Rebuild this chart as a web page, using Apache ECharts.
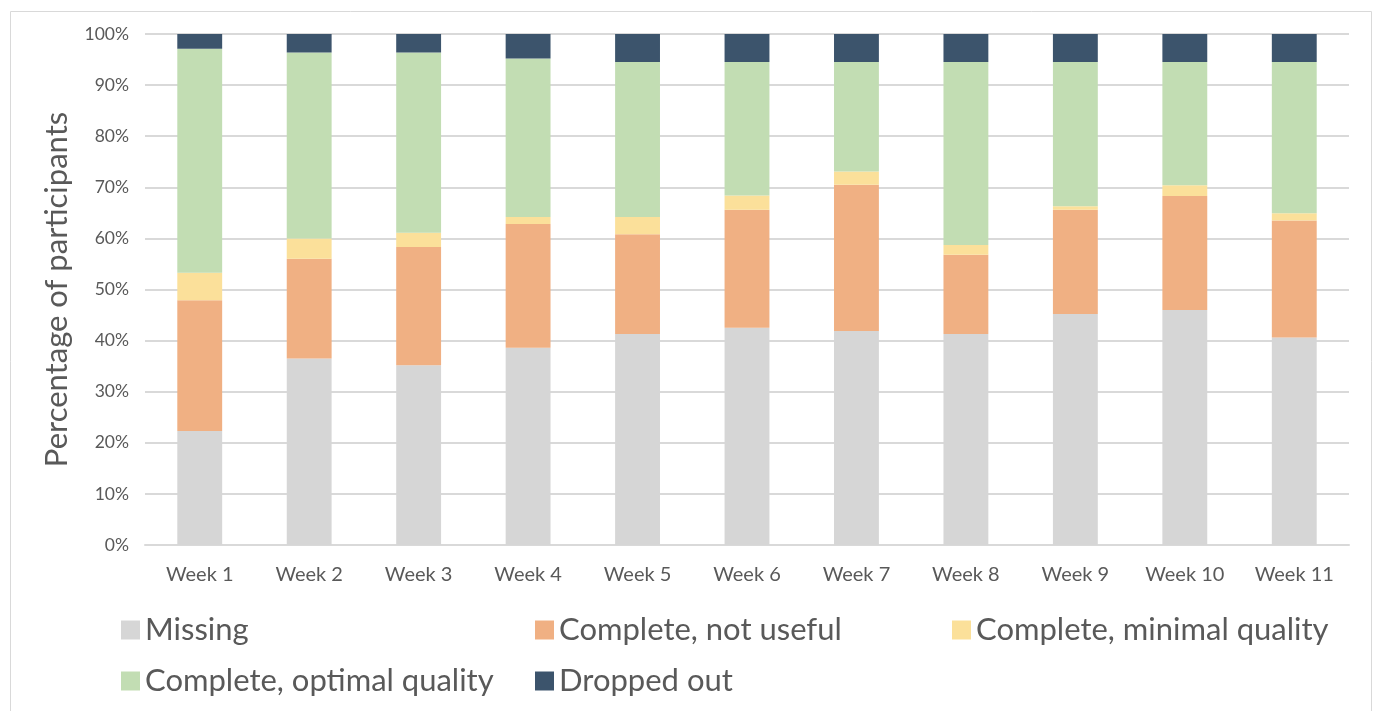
<!DOCTYPE html>
<html>
<head>
<meta charset="utf-8">
<script src="https://cdn.jsdelivr.net/npm/echarts@6/dist/echarts.min.js"></script>
<style>
  html, body { margin: 0; padding: 0; background: #fff; }
  #chart { width: 1378px; height: 711px; }
</style>
</head>
<body>
<div id="chart"></div>
<script>
const weeks = ['Week 1', 'Week 2', 'Week 3', 'Week 4', 'Week 5', 'Week 6', 'Week 7', 'Week 8', 'Week 9', 'Week 10', 'Week 11'];

// shares of participants, in %
const missing    = [22.3, 36.5, 35.2, 38.6, 41.3, 42.5, 41.9, 41.3, 45.2, 46.0, 40.6];
const notUseful  = [25.6, 19.5, 23.1, 24.2, 19.5, 23.1, 28.6, 15.5, 20.4, 22.3, 22.9];
const minimal    = [5.4, 4.0, 2.8, 1.4, 3.4, 2.8, 2.6, 1.9, 0.7, 2.1, 1.4];
const optimal    = [43.8, 36.4, 35.3, 31.0, 30.3, 26.1, 21.4, 35.8, 28.2, 24.1, 29.6];
const droppedOut = [2.9, 3.6, 3.6, 4.8, 5.5, 5.5, 5.5, 5.5, 5.5, 5.5, 5.5];

const font = 'Lato, "Open Sans", sans-serif';
const textColor = '#595959';

const chart = echarts.init(document.getElementById('chart'));

const legendBase = {
  orient: 'vertical',
  top: 609,
  itemWidth: 19,
  itemHeight: 19,
  itemGap: 19,
  icon: 'rect',
  textStyle: { fontSize: 31, lineHeight: 32, color: textColor, fontFamily: font }
};

const bar = (name, data, color) => ({
  name,
  type: 'bar',
  stack: 'total',
  data,
  barWidth: '41%',
  itemStyle: { color },
  emphasis: { disabled: true }
});

chart.setOption({
  animation: false,
  graphic: [{
    type: 'rect',
    shape: { x: 10.5, y: 11.5, width: 1361, height: 720 },
    style: { fill: 'none', stroke: '#d9d9d9', lineWidth: 1 },
    silent: true
  }],
  grid: { left: 145, right: 29, top: 34, bottom: 166 },
  legend: [
    Object.assign({}, legendBase, { left: 116, data: ['Missing', 'Complete, optimal quality'] }),
    Object.assign({}, legendBase, { left: 530, data: ['Complete, not useful', 'Dropped out'] }),
    Object.assign({}, legendBase, { left: 947, data: ['Complete, minimal quality'] })
  ],
  xAxis: {
    type: 'category',
    data: weeks,
    axisLine: { lineStyle: { color: '#d9d9d9', width: 2 } },
    axisTick: { show: false },
    axisLabel: { fontSize: 20, color: textColor, fontFamily: font, margin: 20 }
  },
  yAxis: {
    type: 'value',
    min: 0,
    max: 100,
    interval: 10,
    name: 'Percentage of participants',
    nameLocation: 'middle',
    nameGap: 73,
    nameTextStyle: { fontSize: 31, color: textColor, fontFamily: font },
    axisLabel: { formatter: '{value}%', fontSize: 17.5, color: textColor, fontFamily: font, margin: 16 },
    splitLine: { lineStyle: { color: '#d9d9d9', width: 2 } }
  },
  series: [
    bar('Missing', missing, '#d6d6d6'),
    bar('Complete, not useful', notUseful, '#f0b083'),
    bar('Complete, minimal quality', minimal, '#fbe09a'),
    bar('Complete, optimal quality', optimal, '#c2ddb3'),
    bar('Dropped out', droppedOut, '#3c546c')
  ]
});
</script>
</body>
</html>
